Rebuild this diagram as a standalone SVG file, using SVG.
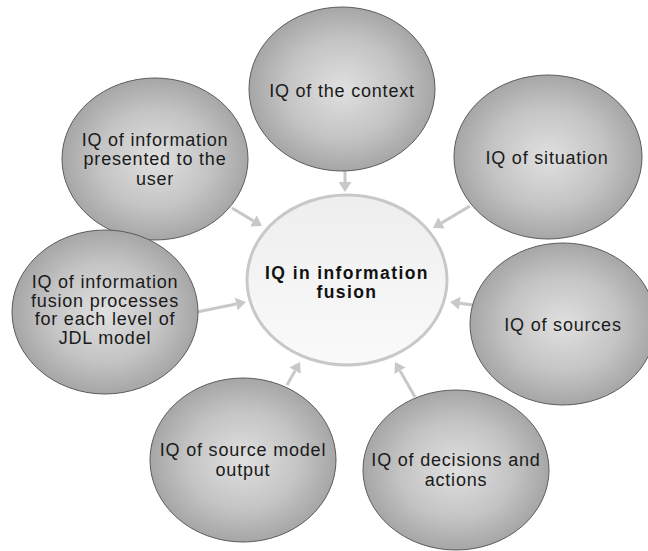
<svg xmlns="http://www.w3.org/2000/svg" width="648" height="551" viewBox="0 0 648 551">
<defs>
<radialGradient id="g" cx="50%" cy="50%" r="50%">
<stop offset="0" stop-color="#e0e0e0"/>
<stop offset="0.6" stop-color="#c4c4c4"/>
<stop offset="1" stop-color="#a6a6a6"/>
</radialGradient>
<linearGradient id="c" x1="0" y1="0" x2="0" y2="1">
<stop offset="0" stop-color="#eeeeee"/>
<stop offset="1" stop-color="#fafafa"/>
</linearGradient>
<marker id="ah" viewBox="0 0 10 13" refX="0" refY="6.5" markerWidth="10" markerHeight="13" markerUnits="userSpaceOnUse" orient="auto">
<path d="M0,0 L10,6.5 L0,13 z" fill="#c8c8c8"/>
</marker>
<style>
.n{fill:url(#g);stroke:#5c5c5c;stroke-width:1}
.t{font-family:"Liberation Sans",Arial,sans-serif;font-size:18px;letter-spacing:0.8px;fill:#1a1a1a;text-anchor:middle}
.b{font-family:"Liberation Sans",Arial,sans-serif;font-size:17.5px;font-weight:bold;letter-spacing:1.4px;fill:#111;text-anchor:middle}
.e{stroke:#c8c8c8;stroke-width:3;fill:none;marker-end:url(#ah)}
</style>
</defs>
<rect width="648" height="551" fill="#fff"/>
<g id="connectors">
<line class="e" x1="345" y1="168" x2="345" y2="182"/>
<line class="e" x1="232" y1="208" x2="253.4" y2="220.9"/>
<line class="e" x1="470" y1="206" x2="441.6" y2="222.9"/>
<line class="e" x1="197" y1="312" x2="236.2" y2="304"/>
<line class="e" x1="473" y1="305" x2="459.9" y2="303.3"/>
<line class="e" x1="287" y1="385" x2="295.1" y2="370.7"/>
<line class="e" x1="415" y1="397" x2="400" y2="370.7"/>
</g>
<g id="center">
<ellipse cx="347" cy="280" rx="100" ry="85" fill="url(#c)" stroke="#c8c8c8" stroke-width="3"/>
<text class="b" x="347" y="279">IQ in information</text>
<text class="b" x="347" y="298">fusion</text>
</g>
<g id="context">
<ellipse class="n" cx="342" cy="89" rx="93" ry="82"/>
<text class="t" x="342" y="96.5">IQ of the context</text>
</g>
<g id="user">
<ellipse class="n" cx="155" cy="159" rx="93" ry="81"/>
<text class="t" x="155" y="145.5">IQ of information</text>
<text class="t" x="155" y="165">presented to the</text>
<text class="t" x="155" y="184.5">user</text>
</g>
<g id="situation">
<ellipse class="n" cx="548" cy="157" rx="94" ry="82"/>
<text class="t" x="547" y="164">IQ of situation</text>
</g>
<g id="jdl">
<ellipse class="n" cx="105" cy="312" rx="93" ry="82"/>
<text class="t" x="105" y="288">IQ of information</text>
<text class="t" x="105" y="306.5">fusion processes</text>
<text class="t" x="105" y="325">for each level of</text>
<text class="t" x="105" y="343.5">JDL model</text>
</g>
<g id="sources">
<ellipse class="n" cx="563" cy="324" rx="93" ry="81"/>
<text class="t" x="563" y="331">IQ of sources</text>
</g>
<g id="sourcemodel">
<ellipse class="n" cx="243" cy="460" rx="93" ry="82"/>
<text class="t" x="243" y="456">IQ of source model</text>
<text class="t" x="243" y="476">output</text>
</g>
<g id="decisions">
<ellipse class="n" cx="456" cy="470" rx="93" ry="80"/>
<text class="t" x="456" y="466">IQ of decisions and</text>
<text class="t" x="456" y="486">actions</text>
</g>
</svg>
